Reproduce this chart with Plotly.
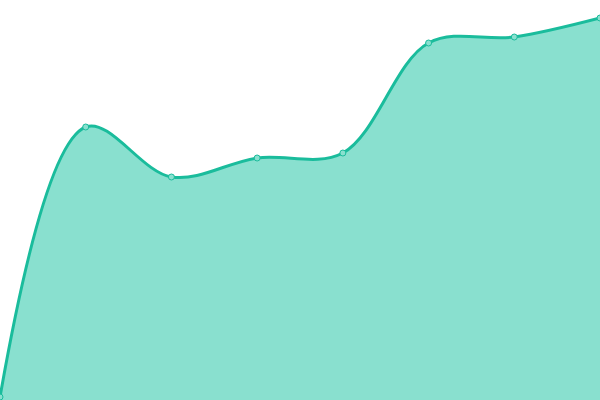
import plotly.graph_objects as go

x = [0, 1, 2, 3, 4, 5, 6, 7]
values = [3, 273, 223, 242, 247, 357, 363, 382]

fig = go.Figure()
fig.add_trace(go.Scatter(
    x=x, y=values, mode="lines+markers",
    line=dict(color="#1abc9c", width=3, shape="spline", smoothing=1),
    fill="tozeroy", fillcolor="#89e0cf",
    marker=dict(size=6, color="#89e0cf", line=dict(color="#1abc9c", width=1)),
    cliponaxis=False, hoverinfo="skip",
))
fig.update_layout(
    width=600, height=400, margin=dict(l=0, r=0, t=0, b=0),
    paper_bgcolor="white", plot_bgcolor="white", showlegend=False,
    xaxis=dict(visible=False, range=[0, 7]),
    yaxis=dict(visible=False, range=[0, 400]),
)
fig.write_html("out.html", config={"displayModeBar": False},
               post_script="document.body.style.margin='0';document.body.style.overflow='hidden';")
